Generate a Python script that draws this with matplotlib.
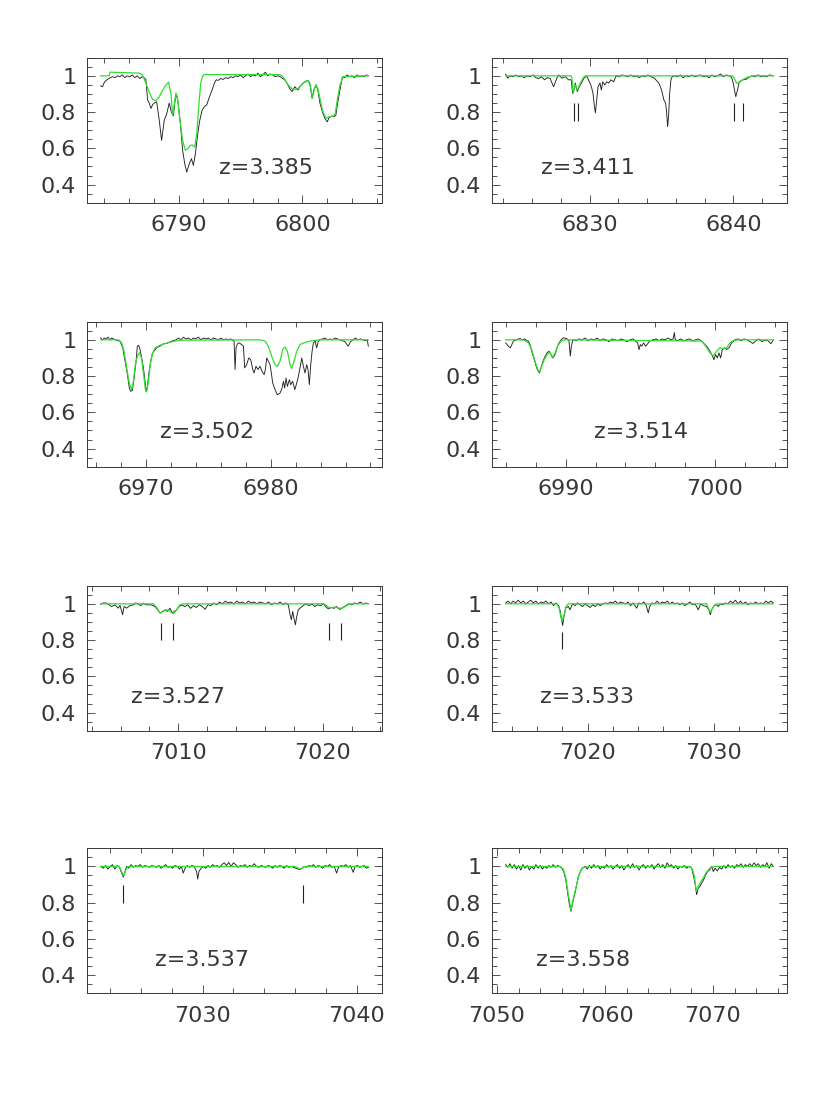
import numpy as np
import matplotlib
matplotlib.use("Agg")
import matplotlib.pyplot as plt
from matplotlib.ticker import MultipleLocator, FormatStrFormatter, FuncFormatter

# ---------------- data (wavelength [A], normalised flux) ----------------
redshifts = ["z=3.385", "z=3.411", "z=3.502", "z=3.514",
             "z=3.527", "z=3.533", "z=3.537", "z=3.558"]

black_1 = [(6783.70,0.945),(6783.85,0.94),(6784.00,0.965),(6784.15,0.975),(6784.35,0.985),(6784.50,0.99),
 (6784.65,0.995),(6784.85,0.99),(6785.05,1.0),(6785.25,0.995),(6785.45,1.005),(6785.65,0.99),(6785.85,1.0),
 (6786.05,0.995),(6786.25,1.005),(6786.45,0.99),(6786.65,1.0),(6786.85,0.985),(6787.05,0.995),(6787.20,0.99),
 (6787.35,0.98),(6787.49,0.867),(6787.62,0.85),(6787.76,0.82),(6787.89,0.84),(6788.03,0.85),(6788.22,0.857),
 (6788.43,0.756),(6788.62,0.644),(6788.84,0.756),(6789.03,0.79),(6789.24,0.85),(6789.41,0.80),(6789.57,0.78),
 (6789.73,0.876),(6789.84,0.894),(6789.97,0.84),(6790.14,0.737),(6790.32,0.589),(6790.49,0.515),(6790.65,0.469),
 (6790.86,0.515),(6791.03,0.543),(6791.19,0.506),(6791.35,0.57),(6791.51,0.663),(6791.68,0.746),(6791.89,0.81),
 (6792.08,0.83),(6792.27,0.84),(6792.49,0.885),(6792.70,0.922),(6792.89,0.96),(6793.03,0.978),(6793.20,0.975),
 (6793.40,0.985),(6793.60,0.98),(6793.80,0.99),(6794.00,0.985),(6794.20,0.995),(6794.40,0.99),(6794.60,1.0),
 (6794.80,0.995),(6795.00,1.005),(6795.20,0.99),(6795.40,1.0),(6795.60,1.01),(6795.80,0.995),(6796.00,1.005),
 (6796.20,1.0),(6796.40,1.015),(6796.60,0.995),(6796.80,1.005),(6797.00,1.02),(6797.20,1.0),(6797.40,1.01),
 (6797.60,1.005),(6797.80,0.995),(6798.00,1.0),(6798.20,0.995),(6798.40,0.985),(6798.57,0.978),(6798.75,0.96),
 (6798.97,0.93),(6799.16,0.913),(6799.38,0.94),(6799.52,0.93),(6799.65,0.922),(6799.78,0.94),(6799.92,0.95),
 (6800.05,0.96),(6800.25,0.97),(6800.46,0.974),(6800.59,0.96),(6800.78,0.876),(6800.92,0.922),(6801.08,0.95),
 (6801.24,0.922),(6801.41,0.85),(6801.62,0.80),(6801.81,0.765),(6802.00,0.746),(6802.16,0.77),(6802.35,0.778),
 (6802.54,0.774),(6802.70,0.783),(6802.84,0.85),(6803.03,0.922),(6803.22,0.993),(6803.40,0.99),(6803.60,1.005),
 (6803.80,0.995),(6804.00,1.0),(6804.20,0.99),(6804.40,1.005),(6804.60,0.995),(6804.80,1.0),(6805.00,0.995),
 (6805.15,1.005),(6805.32,1.0)]
model_1 = [(6783.70,1.0),(6784.38,1.0),(6784.46,1.02),(6786.81,1.015),(6787.08,1.005),(6787.35,0.96),
 (6787.62,0.91),(6787.89,0.87),(6788.16,0.863),(6788.43,0.885),(6788.70,0.92),(6788.97,0.95),(6789.19,0.965),
 (6789.38,0.90),(6789.51,0.78),(6789.65,0.845),(6789.78,0.906),(6789.92,0.87),(6790.11,0.75),(6790.32,0.644),
 (6790.54,0.589),(6790.73,0.598),(6790.95,0.617),(6791.14,0.617),(6791.30,0.607),(6791.46,0.68),(6791.62,0.83),
 (6791.78,0.96),(6791.95,1.0),(6792.08,1.007),(6798.16,1.007),(6798.43,0.996),(6798.84,0.95),(6799.24,0.922),
 (6799.65,0.93),(6800.05,0.96),(6800.46,0.974),(6800.65,0.94),(6800.81,0.876),(6800.95,0.922),(6801.08,0.95),
 (6801.24,0.93),(6801.41,0.876),(6801.62,0.81),(6801.89,0.765),(6802.16,0.774),(6802.49,0.778),(6802.65,0.793),
 (6802.81,0.867),(6803.03,0.95),(6803.30,0.996),(6805.32,1.0)]

black_2 = [(6824.16,1.009),(6824.30,0.987),(6824.47,1.0),(6824.65,0.995),(6824.85,1.005),(6825.05,0.995),
 (6825.25,1.0),(6825.45,0.99),(6825.65,1.0),(6825.85,0.995),(6826.05,1.005),(6826.25,0.99),(6826.45,0.985),
 (6826.65,0.995),(6826.86,0.978),(6827.05,0.99),(6827.25,0.985),(6827.49,0.94),(6827.72,0.987),(6827.84,1.005),
 (6828.07,0.987),(6828.30,0.996),(6828.53,0.978),(6828.72,0.978),(6828.81,0.904),(6828.91,0.922),(6829.00,0.96),
 (6829.14,0.913),(6829.28,0.94),(6829.47,0.967),(6829.65,0.993),(6829.81,0.996),(6829.98,0.967),(6830.12,0.94),
 (6830.23,0.904),(6830.33,0.83),(6830.40,0.796),(6830.49,0.867),(6830.58,0.94),(6830.72,0.96),(6830.81,0.922),
 (6830.91,0.967),(6831.05,0.95),(6831.19,0.967),(6831.33,0.96),(6831.47,0.978),(6831.67,0.967),(6831.84,1.0),
 (6832.05,0.995),(6832.25,1.005),(6832.45,1.0),(6832.65,0.995),(6832.85,1.005),(6833.05,0.995),(6833.25,1.0),
 (6833.45,0.99),(6833.65,1.0),(6833.85,0.995),(6834.05,1.005),(6834.25,0.995),(6834.45,0.99),(6834.58,0.98),
 (6834.81,0.96),(6835.00,0.922),(6835.16,0.867),(6835.28,0.85),(6835.35,0.80),(6835.42,0.72),(6835.49,0.78),
 (6835.56,0.90),(6835.65,0.978),(6835.74,0.996),(6835.90,1.0),(6836.10,0.995),(6836.30,1.005),(6836.50,0.99),
 (6836.70,1.0),(6836.90,0.995),(6837.10,1.005),(6837.30,0.995),(6837.50,1.0),(6837.70,1.005),(6837.90,0.995),
 (6838.10,1.0),(6838.30,0.99),(6838.50,1.005),(6838.70,0.995),(6838.90,1.0),(6839.10,1.01),(6839.30,0.995),
 (6839.50,1.005),(6839.70,1.0),(6839.88,0.99),(6839.98,0.96),(6840.07,0.922),(6840.16,0.885),(6840.28,0.922),
 (6840.40,0.967),(6840.63,0.978),(6840.86,0.98),(6841.09,0.993),(6841.30,1.0),(6841.50,0.995),(6841.70,1.005),
 (6841.90,0.995),(6842.10,1.0),(6842.30,0.995),(6842.50,1.005),(6842.77,1.0)]
model_2 = [(6824.16,1.0),(6828.70,1.0),(6828.77,0.987),(6828.86,0.904),(6829.00,0.95),(6829.14,0.922),
 (6829.35,0.96),(6829.58,0.993),(6829.70,1.0),(6839.93,1.0),(6840.05,0.987),(6840.21,0.96),(6840.40,0.963),
 (6840.63,0.978),(6840.98,0.993),(6841.33,1.0),(6842.77,1.0)]

black_3 = [(6966.36,1.011),(6966.50,1.0),(6966.65,1.01),(6966.80,1.005),(6966.95,1.015),(6967.10,1.0),
 (6967.25,1.01),(6967.40,1.005),(6967.55,1.0),(6967.70,0.995),(6967.91,0.993),(6968.13,0.956),(6968.32,0.88),
 (6968.50,0.81),(6968.66,0.734),(6968.77,0.716),(6968.90,0.72),(6969.04,0.789),(6969.20,0.882),(6969.30,0.965),
 (6969.41,0.97),(6969.52,0.945),(6969.65,0.90),(6969.79,0.845),(6969.92,0.77),(6970.00,0.716),(6970.11,0.743),
 (6970.21,0.808),(6970.37,0.882),(6970.53,0.928),(6970.72,0.945),(6970.91,0.96),(6971.12,0.965),(6971.39,0.978),
 (6971.66,0.98),(6971.93,0.989),(6972.19,0.996),(6972.40,1.0),(6972.60,1.01),(6972.80,1.0),(6973.00,1.015),
 (6973.20,1.005),(6973.40,1.01),(6973.60,1.0),(6973.80,1.01),(6974.00,1.005),(6974.20,1.015),(6974.40,1.0),
 (6974.60,1.01),(6974.80,1.005),(6975.00,1.01),(6975.20,1.0),(6975.40,1.01),(6975.60,1.005),(6975.80,1.0),
 (6976.00,1.01),(6976.20,1.0),(6976.40,1.005),(6976.60,1.0),(6976.80,1.005),(6977.06,0.993),(6977.14,0.836),
 (6977.22,0.956),(6977.33,0.978),(6977.49,0.983),(6977.65,0.974),(6977.81,0.965),(6977.91,0.845),(6978.07,0.863),
 (6978.24,0.90),(6978.40,0.89),(6978.56,0.836),(6978.66,0.817),(6978.82,0.854),(6978.98,0.836),(6979.14,0.854),
 (6979.30,0.826),(6979.47,0.808),(6979.57,0.836),(6979.68,0.90),(6979.81,0.882),(6979.95,0.863),(6980.05,0.817),
 (6980.16,0.762),(6980.35,0.725),(6980.53,0.697),(6980.75,0.706),(6980.91,0.734),(6981.02,0.771),(6981.12,0.734),
 (6981.23,0.789),(6981.34,0.743),(6981.50,0.78),(6981.60,0.752),(6981.76,0.771),(6981.93,0.725),(6982.09,0.762),
 (6982.22,0.799),(6982.35,0.845),(6982.49,0.90),(6982.62,0.854),(6982.75,0.817),(6982.89,0.863),(6982.99,0.836),
 (6983.10,0.753),(6983.21,0.863),(6983.32,0.937),(6983.42,0.983),(6983.56,0.993),(6983.69,0.956),(6983.82,0.993),
 (6983.96,1.0),(6984.15,1.005),(6984.35,1.01),(6984.55,1.0),(6984.75,1.005),(6984.95,1.0),(6985.15,1.01),
 (6985.35,1.005),(6985.55,1.0),(6985.75,0.995),(6985.95,0.99),(6986.10,0.975),(6986.23,0.965),(6986.40,0.99),
 (6986.60,1.0),(6986.80,1.01),(6987.00,1.0),(6987.20,1.005),(6987.40,1.0),(6987.60,0.995),(6987.75,1.0),
 (6987.83,0.965)]
model_3 = [(6966.36,1.0),(6967.78,1.0),(6968.05,0.982),(6968.24,0.935),(6968.45,0.843),(6968.66,0.76),
 (6968.85,0.725),(6968.98,0.77),(6969.14,0.863),(6969.30,0.909),(6969.47,0.928),(6969.63,0.90),(6969.79,0.817),
 (6969.95,0.725),(6970.05,0.712),(6970.19,0.771),(6970.32,0.854),(6970.48,0.919),(6970.72,0.956),(6971.12,0.97),
 (6971.66,0.982),(6972.19,0.991),(6972.73,0.998),(6979.14,1.0),(6979.55,0.993),(6979.81,0.965),(6980.08,0.909),
 (6980.35,0.863),(6980.53,0.854),(6980.75,0.882),(6980.96,0.947),(6981.15,0.96),(6981.34,0.937),(6981.55,0.863),
 (6981.68,0.841),(6981.87,0.882),(6982.09,0.937),(6982.35,0.974),(6982.89,0.989),(6983.42,0.996),(6983.96,1.0),
 (6987.83,1.0)]

black_4 = [(6985.98,0.983),(6986.16,0.965),(6986.29,0.956),(6986.50,0.993),(6986.72,1.002),(6986.94,1.007),
 (6987.10,1.0),(6987.25,1.005),(6987.40,0.995),(6987.50,0.993),(6987.61,0.974),(6987.72,0.937),(6987.86,0.90),
 (6987.99,0.863),(6988.10,0.836),(6988.24,0.817),(6988.35,0.845),(6988.48,0.882),(6988.62,0.909),(6988.75,0.928),
 (6988.88,0.937),(6989.02,0.919),(6989.15,0.90),(6989.29,0.919),(6989.42,0.956),(6989.55,0.982),(6989.69,1.0),
 (6989.84,1.011),(6990.07,1.007),(6990.22,0.993),(6990.31,0.91),(6990.38,0.965),(6990.49,1.002),(6990.70,0.995),
 (6990.90,1.005),(6991.10,1.0),(6991.30,1.01),(6991.50,0.995),(6991.70,1.005),(6991.90,1.0),(6992.10,1.01),
 (6992.30,0.995),(6992.50,1.005),(6992.70,1.0),(6992.90,0.99),(6993.10,1.005),(6993.30,1.0),(6993.50,0.995),
 (6993.70,1.005),(6993.90,1.0),(6994.10,0.99),(6994.30,1.0),(6994.50,1.005),(6994.82,0.983),(6994.91,0.946),
 (6995.00,0.974),(6995.09,0.965),(6995.22,0.983),(6995.36,0.965),(6995.49,0.978),(6995.65,0.996),(6995.85,1.0),
 (6996.05,1.005),(6996.25,0.995),(6996.45,1.005),(6996.65,1.0),(6996.85,1.01),(6997.05,1.0),(6997.20,1.005),
 (6997.28,1.04),(6997.34,1.0),(6997.50,0.995),(6997.70,1.005),(6997.90,0.995),(6998.10,1.0),(6998.30,1.005),
 (6998.50,0.995),(6998.70,1.0),(6998.90,1.005),(6999.05,0.995),(6999.22,0.983),(6999.44,0.965),(6999.67,0.937),
 (6999.84,0.909),(6999.93,0.89),(7000.04,0.919),(7000.16,0.90),(7000.27,0.928),(7000.38,0.90),(7000.49,0.946),
 (7000.63,0.956),(7000.78,0.946),(7000.94,0.956),(7001.12,0.983),(7001.34,1.0),(7001.55,1.005),(7001.75,0.995),
 (7001.95,1.005),(7002.15,1.0),(7002.35,0.99),(7002.55,0.98),(7002.75,0.995),(7002.95,1.005),(7003.15,0.99),
 (7003.35,1.0),(7003.55,0.995),(7003.75,0.978),(7003.91,1.0)]
model_4 = [(6985.98,1.0),(6987.05,1.0),(6987.28,0.996),(6987.50,0.983),(6987.72,0.946),(6987.95,0.882),
 (6988.13,0.836),(6988.24,0.823),(6988.39,0.854),(6988.57,0.891),(6988.75,0.919),(6988.93,0.933),(6989.11,0.90),
 (6989.29,0.928),(6989.46,0.965),(6989.69,0.993),(6989.96,1.0),(6999.11,0.993),(6999.38,0.965),(6999.67,0.928),
 (6999.89,0.91),(7000.11,0.937),(7000.33,0.956),(7000.56,0.952),(7000.78,0.956),(7001.00,0.983),(7001.23,0.996),
 (7001.56,1.0),(7003.91,1.0)]

black_5 = [(7004.62,0.998),(7004.80,1.005),(7005.03,1.004),(7005.20,0.995),(7005.38,0.985),(7005.61,0.994),
 (7005.84,0.976),(7005.96,0.991),(7006.14,0.94),(7006.24,0.985),(7006.42,0.976),(7006.65,0.991),(7006.88,0.994),
 (7007.05,1.005),(7007.23,0.998),(7007.40,0.99),(7007.58,1.004),(7007.75,0.995),(7007.92,0.994),(7008.15,0.994),
 (7008.38,0.985),(7008.57,0.967),(7008.73,0.949),(7008.91,0.958),(7009.10,0.967),(7009.24,0.958),(7009.42,0.976),
 (7009.58,0.949),(7009.72,0.958),(7009.88,0.967),(7010.05,0.985),(7010.23,0.994),(7010.45,0.985),(7010.65,0.995),
 (7010.85,0.975),(7011.05,0.99),(7011.25,0.98),(7011.45,0.995),(7011.65,0.985),(7011.85,0.97),(7012.05,0.995),
 (7012.25,0.99),(7012.45,1.005),(7012.65,0.995),(7012.85,1.01),(7013.05,1.0),(7013.25,1.015),(7013.45,1.005),
 (7013.65,1.01),(7013.85,1.0),(7014.05,1.015),(7014.25,1.005),(7014.45,1.01),(7014.65,1.0),(7014.85,1.015),
 (7015.05,1.005),(7015.25,1.01),(7015.45,1.0),(7015.65,1.01),(7015.85,1.005),(7016.05,1.0),(7016.25,1.01),
 (7016.45,0.995),(7016.65,1.005),(7016.85,1.0),(7017.05,1.01),(7017.25,0.995),(7017.45,1.005),(7017.62,0.994),
 (7017.74,0.94),(7017.83,0.912),(7017.92,0.958),(7018.01,0.921),(7018.11,0.884),(7018.20,0.93),(7018.31,0.967),
 (7018.43,0.976),(7018.66,0.991),(7018.85,1.0),(7019.05,0.99),(7019.25,1.0),(7019.45,0.985),(7019.65,0.995),
 (7019.85,0.99),(7020.05,1.0),(7020.20,0.985),(7020.39,0.972),(7020.60,0.98),(7020.80,0.975),(7020.95,0.985),
 (7021.19,0.969),(7021.40,0.98),(7021.60,0.99),(7021.80,1.0),(7022.00,0.995),(7022.20,1.005),(7022.40,1.0),
 (7022.60,1.01),(7022.80,1.0),(7023.00,1.005),(7023.16,1.0)]
model_5 = [(7004.62,1.0),(7008.27,1.0),(7008.50,0.98),(7008.73,0.949),(7008.96,0.958),(7009.19,0.967),
 (7009.42,0.958),(7009.65,0.945),(7009.88,0.967),(7010.12,0.996),(7010.35,1.0),(7020.05,1.0),(7020.28,0.989),
 (7020.51,0.976),(7020.74,0.982),(7020.97,0.98),(7021.32,0.974),(7021.55,0.985),(7021.78,0.996),(7022.00,1.0),
 (7023.16,1.0)]

black_6 = [(7013.51,1.005),(7013.70,1.015),(7013.90,1.0),(7014.10,1.015),(7014.30,1.005),(7014.50,1.02),
 (7014.70,1.005),(7014.90,1.015),(7015.10,1.0),(7015.30,1.01),(7015.50,1.02),(7015.70,1.005),(7015.90,1.015),
 (7016.10,1.0),(7016.30,1.01),(7016.50,1.005),(7016.70,1.015),(7016.90,1.0),(7017.10,1.01),(7017.30,0.99),
 (7017.50,1.005),(7017.70,0.99),(7017.84,0.958),(7017.94,0.912),(7018.02,0.881),(7018.13,0.93),(7018.26,0.976),
 (7018.47,0.985),(7018.60,0.967),(7018.80,1.0),(7019.00,0.99),(7019.20,1.005),(7019.40,0.995),(7019.60,0.985),
 (7019.80,1.0),(7020.00,0.99),(7020.20,0.98),(7020.40,0.995),(7020.60,0.985),(7020.80,1.0),(7021.00,0.99),
 (7021.20,1.0),(7021.40,1.005),(7021.60,1.0),(7021.80,1.01),(7022.00,1.005),(7022.20,1.015),(7022.40,1.0),
 (7022.60,1.01),(7022.80,1.005),(7023.00,1.0),(7023.20,1.01),(7023.40,0.99),(7023.60,1.005),(7023.88,0.976),
 (7024.05,1.005),(7024.25,1.0),(7024.45,1.01),(7024.62,0.995),(7024.80,0.95),(7024.91,0.985),(7025.10,1.005),
 (7025.30,1.0),(7025.50,1.015),(7025.70,1.0),(7025.90,1.01),(7026.10,1.005),(7026.30,1.015),(7026.50,1.0),
 (7026.70,1.01),(7026.90,1.0),(7027.10,1.005),(7027.30,0.995),(7027.50,1.005),(7027.70,0.99),(7027.90,1.0),
 (7028.10,1.01),(7028.30,0.995),(7028.50,1.0),(7028.76,0.967),(7028.95,1.0),(7029.15,0.99),(7029.42,0.985),
 (7029.60,0.967),(7029.71,0.94),(7029.82,0.967),(7030.00,0.99),(7030.20,0.995),(7030.35,0.985),(7030.50,1.0),
 (7030.70,0.995),(7030.90,1.005),(7031.10,1.0),(7031.30,1.015),(7031.50,1.005),(7031.70,1.02),(7031.90,1.0),
 (7032.10,1.015),(7032.30,1.0),(7032.50,1.01),(7032.70,0.995),(7032.90,1.005),(7033.10,1.0),(7033.30,1.01),
 (7033.50,1.0),(7033.70,1.005),(7033.90,1.0),(7034.10,1.015),(7034.30,1.005),(7034.50,1.015),(7034.70,1.005)]
model_6 = [(7013.51,1.0),(7017.55,1.0),(7017.73,0.978),(7017.89,0.923),(7017.99,0.905),(7018.13,0.94),
 (7018.28,0.985),(7018.47,1.0),(7029.42,1.0),(7029.60,0.967),(7029.74,0.954),(7029.89,0.976),(7030.08,0.996),
 (7030.30,1.0),(7034.70,1.0)]

black_7 = [(7023.38,1.0),(7023.55,0.99),(7023.70,1.005),(7023.85,0.985),(7024.00,1.0),(7024.15,1.01),
 (7024.30,0.985),(7024.45,1.005),(7024.60,0.995),(7024.74,0.963),(7024.85,0.941),(7024.96,0.972),(7025.06,1.0),
 (7025.20,0.99),(7025.35,1.01),(7025.50,0.995),(7025.65,1.005),(7025.80,1.0),(7025.95,1.01),(7026.10,0.995),
 (7026.25,1.005),(7026.40,1.0),(7026.55,0.995),(7026.70,1.005),(7026.85,1.0),(7027.00,0.995),(7027.15,1.005),
 (7027.30,0.99),(7027.45,1.0),(7027.60,1.01),(7027.75,0.995),(7027.90,1.0),(7028.05,0.99),(7028.20,1.005),
 (7028.35,1.0),(7028.50,0.985),(7028.62,1.0),(7028.74,0.963),(7028.86,0.99),(7029.00,1.005),(7029.15,0.995),
 (7029.30,1.005),(7029.45,1.0),(7029.61,0.972),(7029.68,0.93),(7029.76,0.972),(7029.90,0.99),(7030.05,1.0),
 (7030.20,0.99),(7030.35,1.005),(7030.50,0.995),(7030.65,1.01),(7030.80,1.0),(7030.95,1.005),(7031.10,0.995),
 (7031.25,1.01),(7031.40,1.02),(7031.55,1.005),(7031.70,1.022),(7031.85,1.0),(7032.00,1.02),(7032.15,1.01),
 (7032.30,0.995),(7032.45,1.005),(7032.60,1.0),(7032.75,1.01),(7032.90,0.995),(7033.05,1.005),(7033.20,1.0),
 (7033.35,1.015),(7033.50,1.0),(7033.65,0.995),(7033.80,1.005),(7033.95,1.0),(7034.10,0.995),(7034.25,1.005),
 (7034.40,1.0),(7034.55,0.99),(7034.70,1.005),(7034.85,0.995),(7035.00,1.005),(7035.15,1.0),(7035.30,0.99),
 (7035.45,1.005),(7035.60,0.995),(7035.75,1.0),(7035.90,0.995),(7036.05,0.99),(7036.20,0.985),(7036.32,0.982),
 (7036.45,0.99),(7036.60,1.0),(7036.75,0.995),(7036.90,1.005),(7037.05,1.0),(7037.20,1.01),(7037.35,0.995),
 (7037.50,1.005),(7037.65,1.0),(7037.80,0.99),(7037.95,1.005),(7038.10,1.0),(7038.25,1.01),(7038.40,0.995),
 (7038.55,1.0),(7038.70,0.963),(7038.82,0.995),(7039.00,1.005),(7039.15,1.0),(7039.30,1.01),(7039.45,0.995),
 (7039.60,1.005),(7039.78,0.967),(7039.90,1.0),(7040.05,1.005),(7040.20,0.995),(7040.35,1.0),(7040.50,1.005),
 (7040.62,0.99),(7040.76,0.995)]
model_7 = [(7023.38,1.0),(7024.59,1.0),(7024.74,0.972),(7024.85,0.949),(7024.98,0.972),(7025.11,0.998),
 (7025.25,1.0),(7036.00,1.0),(7036.32,0.985),(7036.65,1.0),(7040.76,1.0)]

black_8 = [(7050.80,1.01),(7051.00,0.995),(7051.20,1.015),(7051.40,0.99),(7051.60,1.01),(7051.80,0.985),
 (7052.00,1.005),(7052.20,0.98),(7052.40,1.01),(7052.60,0.99),(7052.80,1.005),(7053.00,0.98),(7053.20,1.0),
 (7053.40,0.985),(7053.60,1.01),(7053.80,0.99),(7054.00,1.005),(7054.20,0.985),(7054.40,1.0),(7054.60,0.99),
 (7054.80,1.005),(7055.00,0.995),(7055.20,1.01),(7055.40,0.995),(7055.60,1.005),(7055.80,1.0),(7055.99,0.991),
 (7056.17,0.972),(7056.36,0.927),(7056.54,0.853),(7056.70,0.789),(7056.85,0.752),(7056.98,0.789),(7057.10,0.826),
 (7057.22,0.853),(7057.38,0.899),(7057.53,0.945),(7057.72,0.972),(7057.90,0.991),(7058.15,1.0),(7058.35,0.985),
 (7058.55,1.005),(7058.75,0.99),(7058.95,1.01),(7059.15,0.995),(7059.35,1.005),(7059.55,0.985),(7059.75,1.0),
 (7059.95,0.99),(7060.15,1.01),(7060.35,0.995),(7060.55,1.005),(7060.75,0.985),(7060.95,1.0),(7061.15,1.01),
 (7061.35,0.99),(7061.55,1.005),(7061.75,0.98),(7061.95,1.0),(7062.15,1.01),(7062.35,0.99),(7062.55,1.015),
 (7062.75,0.995),(7062.95,1.005),(7063.15,0.98),(7063.35,1.0),(7063.55,1.01),(7063.75,0.99),(7063.95,1.005),
 (7064.15,0.995),(7064.35,1.01),(7064.55,0.985),(7064.75,1.005),(7064.95,1.015),(7065.15,0.995),(7065.35,1.01),
 (7065.55,0.99),(7065.75,1.02),(7065.95,1.0),(7066.15,1.01),(7066.35,0.99),(7066.55,1.005),(7066.75,0.985),
 (7066.95,1.0),(7067.15,0.995),(7067.35,1.005),(7067.55,0.99),(7067.75,1.0),(7068.02,0.991),(7068.21,0.945),
 (7068.36,0.899),(7068.49,0.844),(7068.64,0.881),(7068.80,0.89),(7068.95,0.908),(7069.14,0.927),(7069.32,0.954),
 (7069.51,0.972),(7069.72,0.982),(7069.90,1.0),(7070.03,0.972),(7070.20,0.99),(7070.40,0.975),(7070.60,0.995),
 (7070.80,0.985),(7071.00,1.005),(7071.20,0.99),(7071.40,1.01),(7071.60,0.995),(7071.80,1.005),(7072.00,0.99),
 (7072.20,1.01),(7072.40,1.0),(7072.60,1.015),(7072.80,0.995),(7073.00,1.01),(7073.20,1.0),(7073.40,1.015),
 (7073.60,1.0),(7073.80,1.02),(7074.00,1.005),(7074.20,1.015),(7074.40,0.995),(7074.60,1.01),(7074.80,1.0),
 (7075.00,1.02),(7075.20,0.99),(7075.40,1.015),(7075.59,1.0)]
model_8 = [(7050.80,1.0),(7055.83,1.0),(7056.14,0.985),(7056.36,0.94),(7056.60,0.846),(7056.85,0.758),
 (7057.04,0.817),(7057.22,0.862),(7057.41,0.908),(7057.59,0.954),(7057.84,0.989),(7058.15,0.996),(7058.46,1.0),
 (7067.87,1.0),(7068.09,0.985),(7068.27,0.949),(7068.46,0.862),(7068.64,0.89),(7068.89,0.917),(7069.14,0.941),
 (7069.38,0.967),(7069.72,0.991),(7070.19,1.0),(7075.59,1.0)]

# vertical line markers: wavelengths and their (low, high) flux extent per panel
marks = {1: [6828.88, 6829.21, 6840.05, 6840.63],
         4: [7008.80, 7009.65, 7020.46, 7021.29],
         5: [7018.00],
         6: [7024.85, 7036.54]}
mark_span = {1: (0.750, 0.848), 4: (0.802, 0.894), 5: (0.751, 0.847), 6: (0.798, 0.895)}

blacks = [black_1, black_2, black_3, black_4, black_5, black_6, black_7, black_8]
models = [model_1, model_2, model_3, model_4, model_5, model_6, model_7, model_8]

# ---------------- layout ----------------
W, H = 830, 1106
fig = plt.figure(figsize=(W / 100, H / 100), dpi=100)
col_left = [87.3 / W, 492.3 / W]
ax_w = 294.4 / W
row_bottom = [1 - 202.7 / H, 1 - 466.7 / H, 1 - 730.7 / H, 1 - 993.3 / H]
ax_h = 145.0 / H
label_pos = [(0.606, 0.240), (0.326, 0.240), (0.408, 0.240), (0.504, 0.240),
             (0.309, 0.233), (0.323, 0.233), (0.391, 0.232), (0.308, 0.232)]

txt_color = "#383838"
line_color = "#222222"
green = "#2ee02e"

for i in range(8):
    r, c = divmod(i, 2)
    ax = fig.add_axes([col_left[c], row_bottom[r], ax_w, ax_h])
    bw, bf = np.array(blacks[i]).T
    gw, gf = np.array(models[i]).T
    ax.plot(bw, bf, color=line_color, lw=0.65)
    ax.plot(gw, gf, color=green, lw=0.9)
    if i in marks:
        lo, hi = mark_span[i]
        ax.vlines(marks[i], lo, hi, color=line_color, lw=0.8)
    ax.margins(x=0.05)
    ax.set_ylim(0.3, 1.1)
    ax.xaxis.set_major_locator(MultipleLocator(10))
    ax.xaxis.set_minor_locator(MultipleLocator(2))
    ax.yaxis.set_major_locator(MultipleLocator(0.2))
    ax.yaxis.set_minor_locator(MultipleLocator(0.05))
    ax.xaxis.set_major_formatter(FormatStrFormatter("%d"))
    ax.yaxis.set_major_formatter(FuncFormatter(lambda v, p: "%g" % round(v, 2)))
    ax.tick_params(which="both", direction="in", top=True, right=True,
                   color=txt_color, width=0.6, labelcolor=txt_color, labelsize=16)
    ax.tick_params(which="major", length=6)
    ax.tick_params(which="minor", length=3.5)
    ax.tick_params(axis="x", which="major", pad=9)
    ax.tick_params(axis="y", which="major", pad=8)
    for s in ax.spines.values():
        s.set_color(txt_color)
        s.set_linewidth(0.7)
    lx, ly = label_pos[i]
    ax.text(lx, ly, redshifts[i], transform=ax.transAxes, ha="center", va="center",
            fontsize=16, color=txt_color)

fig.savefig("out.png", dpi=100)
